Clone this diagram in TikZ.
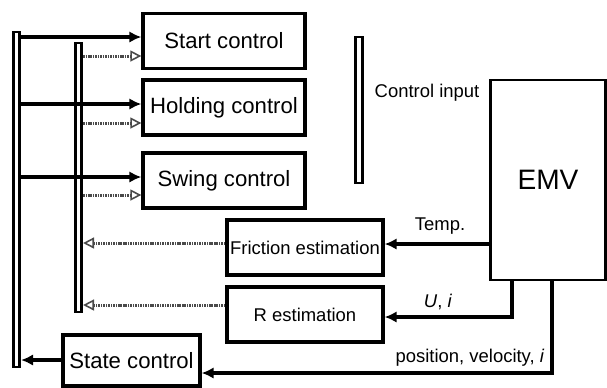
\documentclass[tikz,border=0pt]{standalone}
\usepackage{fontspec}
\setmainfont{Liberation Sans}
\usetikzlibrary{positioning, arrows.meta, calc}
\definecolor{ink}{HTML}{000000}
\definecolor{mute}{HTML}{4A4A4A}
\tikzset{
  ctrl/.style  = {rectangle, draw=ink, line width=1.9pt, fill=white,
                  minimum width=3.24cm, minimum height=1.1cm,
                  align=center, font=\fontsize{12.6}{14}\selectfont},
  est/.style   = {rectangle, draw=ink, line width=1.9pt, fill=white,
                  minimum width=3.12cm, minimum height=1.1cm, inner sep=1pt,
                  align=center, font=\fontsize{10.5}{12}\selectfont},
  bus/.style   = {rectangle, draw=ink, line width=1.5pt, fill=white,
                  inner sep=0pt, minimum width=0.13cm},
  ar/.style    = {-{Latex[length=2.4mm,width=2.3mm]}, line width=1.8pt, draw=ink},
  sig/.style   = {-{Triangle[open,length=2.2mm,width=2.2mm,line width=0.9pt]}, draw=mute,
                  line width=1.7pt, dash pattern=on 0.9pt off 0.5pt},
  lbl/.style   = {font=\fontsize{10.5}{12}\selectfont, inner sep=1pt},
}
\begin{document}
\begin{tikzpicture}[x=0.02cm, y=-0.02cm]
  \useasboundingbox (0,0) rectangle (607,387);

  % buses
  \node[bus, minimum height=6.7cm]  (bus1) at (16.5,199.5) {};
  \node[bus, minimum height=5.38cm] (bus2) at (78.5,177.5) {};
  \node[bus, minimum height=2.92cm, minimum width=0.15cm] (cin) at (359,110) {};
  \node[lbl] (cinlbl) at (427,93) {Control input};

  % control blocks
  \node[ctrl] (start) at (224,41)    {Start control};
  \node[ctrl] (hold)  at (224,107.5) {Holding control};
  \node[ctrl] (swing) at (224,180.5) {Swing control};

  % estimators
  \node[est] (fric) at (305,247.5) {Friction estimation};
  \node[est] (rest) at (305,314.5) {R estimation};
  \node[ctrl, minimum width=2.74cm, minimum height=1.02cm] (state) at (131.5,360.5) {State control};

  % plant
  \node[rectangle, draw=ink, line width=1.6pt, minimum width=2.3cm, minimum height=4cm,
        font=\fontsize{16}{18}\selectfont] (emv) at (548,180) {EMV};
  \coordinate (emvui) at (emv.south -| 512,0);
  \coordinate (emvpv) at (emv.south -| 552,0);

  % state bus to controllers
  \foreach \blk/\yy in {start/37, hold/104, swing/177}
    \draw[ar] (bus1.east |- 0,\yy) -- (\blk.west |- 0,\yy);
  \foreach \blk/\yy in {start/56, hold/123, swing/195}
    \draw[sig] (bus2.east |- 0,\yy) -- (\blk.west |- 0,\yy);

  % estimates back to bus
  \draw[sig] (fric.west |- 0,243) -- (bus2.east |- 0,243);
  \draw[sig] (rest.west |- 0,305) -- (bus2.east |- 0,305);
  \draw[ar] (state.west |- 0,360) -- (bus1.east |- 0,360);

  % measurements from EMV
  \draw[ar] (emv.west |- 0,244) -- (fric.east |- 0,244);
  \node[lbl] (templbl) at (440,226) {Temp.};
  \draw[ar] (emvui) |- (rest.east |- 0,317);
  \node[lbl] (uilbl) at (438,302) {\textit{U}, \textit{i}};
  \draw[ar] (emvpv) |- (state.east |- 0,373);
  \node[lbl] (pvlbl) at (470,358) {position, velocity, \textit{i}};
\end{tikzpicture}
\end{document}
